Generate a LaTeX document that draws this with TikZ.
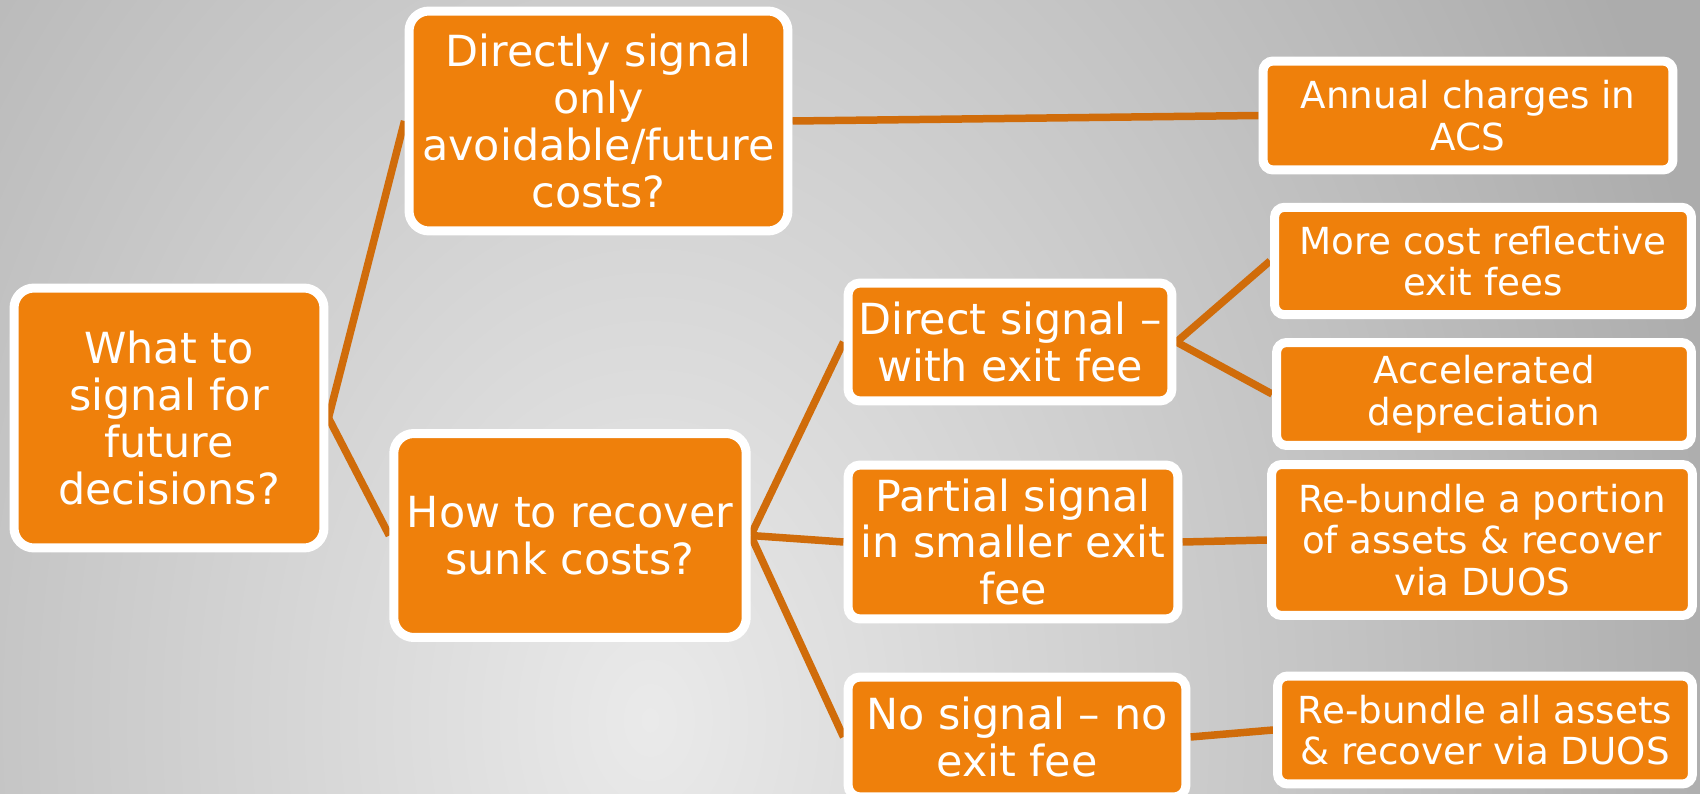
\documentclass[tikz,border=0pt]{standalone}
\usepackage{fontspec}
\setmainfont{DejaVu Sans}
\usepackage{tikz}
\usetikzlibrary{positioning,backgrounds}

\definecolor{boxorange}{RGB}{239,128,11}
\definecolor{linkorange}{RGB}{208,108,10}
\definecolor{bginner}{RGB}{234,234,234}
\definecolor{bgouter}{RGB}{172,172,172}

\begin{document}
\begin{tikzpicture}[x=0.02cm, y=-0.02cm,
    bigbox/.style={draw=white, line width=0.18cm, fill=boxorange, text=white,
        rounded corners=0.4cm, align=center, inner sep=0pt,
        font=\fontsize{24.4pt}{26.6pt}\selectfont},
    midbox/.style={bigbox, rounded corners=0.24cm},
    smallbox/.style={bigbox, rounded corners=0.2cm,
        font=\fontsize{21.2pt}{23.7pt}\selectfont},
    link/.style={draw=linkorange, line width=0.15cm}]
    \useasboundingbox (0,0) rectangle (1700,794);

    % Question boxes
    \node[bigbox, minimum width=6.2cm, minimum height=5.2cm] (root) at (169,418) {What to\\signal for\\future\\decisions?};
    \node[bigbox, minimum width=7.58cm, minimum height=4.4cm] (future) at (598.5,121) {Directly signal\\only\\avoidable/future\\costs?};
    \node[bigbox, minimum width=7.05cm, minimum height=4.08cm] (sunk) at (570,535.5) {How to recover\\sunk costs?};

    % Signal options
    \node[midbox, minimum width=6.48cm, minimum height=2.36cm] (direct) at (1010,342) {Direct signal --\\with exit fee};
    \node[midbox, minimum width=6.6cm, minimum height=3.08cm] (partial) at (1013,542) {Partial signal\\in smaller exit\\fee};
    \node[midbox, minimum width=6.76cm, minimum height=2.4cm] (nosignal) at (1017,737) {No signal -- no\\exit fee};

    % Outcomes
    \node[smallbox, minimum width=8.2cm, minimum height=2.18cm] (annual) at (1468,115.5) {Annual charges in\\ACS};
    \node[smallbox, minimum width=8.34cm, minimum height=2.15cm] (reflective) at (1483,261) {More cost reflective\\exit fees};
    \node[smallbox, minimum width=8.3cm, minimum height=2.06cm] (accel) at (1484,394) {Accelerated\\depreciation};
    \node[smallbox, minimum width=8.42cm, minimum height=3.02cm] (portion) at (1482,540) {Re-bundle a portion\\of assets \& recover\\via DUOS};
    \node[smallbox, minimum width=8.3cm, minimum height=2.16cm] (allassets) at (1485,730) {Re-bundle all assets\\\& recover via DUOS};

    \begin{scope}[on background layer]
        % Background
        \begin{scope}
            \clip (0,0) rectangle (1700,794);
            \shade[inner color=bginner, outer color=bgouter] (-450,-780) rectangle (1750,2220);
        \end{scope}

        % Connectors
        \draw[link] (root.east) -- (future.west);
        \draw[link] (root.east) -- (sunk.west);
        \draw[link] (future.east) -- (annual.west);
        \draw[link] (sunk.east) -- (direct.west);
        \draw[link] (sunk.east) -- (partial.west);
        \draw[link] (sunk.east) -- (nosignal.west);
        \draw[link] (direct.east) -- (reflective.west);
        \draw[link] (direct.east) -- (accel.west);
        \draw[link] (partial.east) -- (portion.west);
        \draw[link] (nosignal.east) -- (allassets.west);
    \end{scope}
\end{tikzpicture}
\end{document}
